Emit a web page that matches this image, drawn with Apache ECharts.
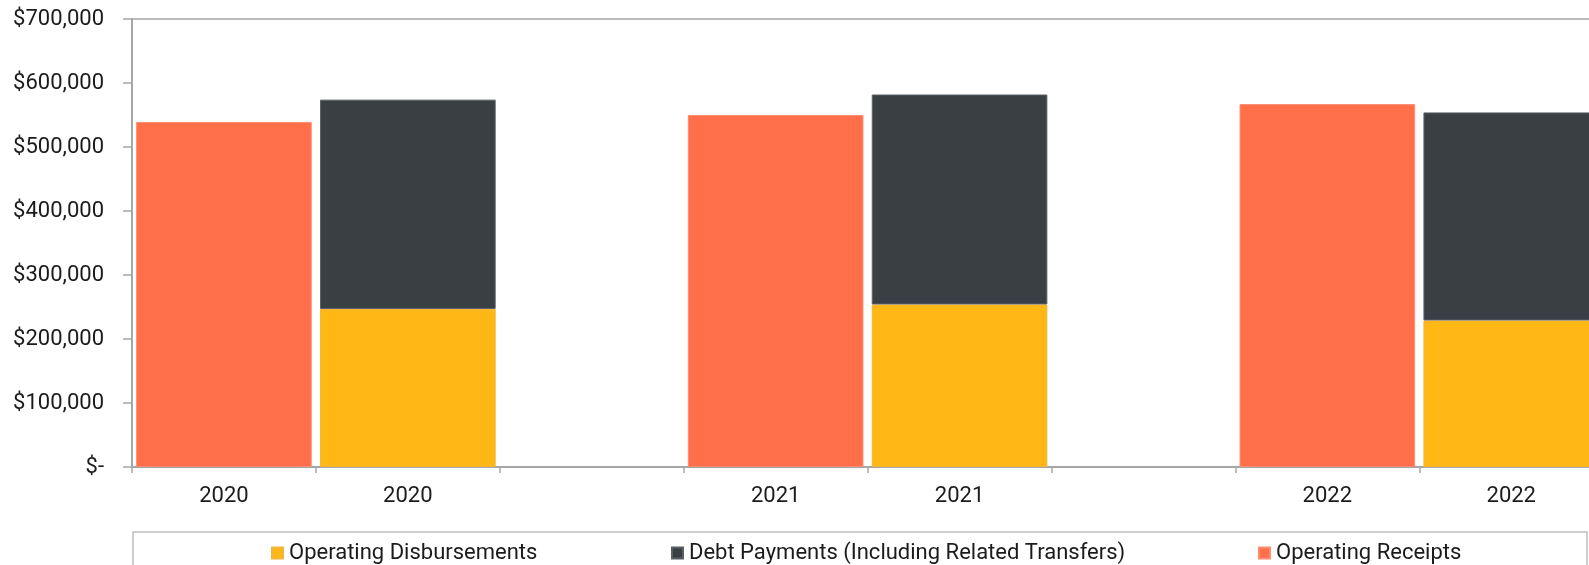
<!DOCTYPE html>
<html>
<head>
<meta charset="utf-8">
<script src="https://cdn.jsdelivr.net/npm/echarts@6/dist/echarts.min.js"></script>
<style>
  html, body { margin: 0; padding: 0; background: #ffffff; }
  #chart { width: 1589px; height: 565px; }
</style>
</head>
<body>
<div id="chart"></div>
<script>
// Fiscal years shown, each as a receipts column next to a spending column
const years = ['2020', '2021', '2022'];
const operatingReceipts = [539000, 550000, 567000];
const operatingDisbursements = [247000, 254000, 229000];
const debtPayments = [327000, 328000, 325000];
const seriesNames = ['Operating Disbursements', 'Debt Payments (Including Related Transfers)', 'Operating Receipts'];
const yTicks = { min: 0, max: 700000, interval: 100000 };

const FONT = 'Roboto, "Noto Sans", sans-serif';
const TEXT = '#1b1b1b';
const AXIS = '#a6a6a6';
const FS = 22;

// Category slots: receipts, spending, spacer between years
const categories = [];
const receiptsData = [];
const disbData = [];
const debtData = [];
years.forEach((y, i) => {
  if (i > 0) { categories.push(''); receiptsData.push('-'); disbData.push('-'); debtData.push('-'); }
  categories.push(y); receiptsData.push(operatingReceipts[i]); disbData.push('-'); debtData.push('-');
  categories.push(y); receiptsData.push('-'); disbData.push(operatingDisbursements[i]); debtData.push(debtPayments[i]);
});

const slot = 183.9;
const chart = echarts.init(document.getElementById('chart'), null, { renderer: 'canvas' });

function money(v) {
  if (v === 0) return '$-';
  return '$' + v.toLocaleString('en-US');
}

const legendPos = [271, 671, 1258];

chart.setOption({
  animation: false,
  textStyle: { fontFamily: FONT },
  grid: {
    left: 132, top: 19, width: slot * categories.length, bottom: 98,
    outerBoundsMode: 'none',
    show: true, borderColor: AXIS, borderWidth: 1.5, containLabel: false
  },
  xAxis: {
    type: 'category',
    data: categories,
    axisLine: { lineStyle: { color: AXIS, width: 2 } },
    axisTick: { show: true, length: 6, interval: 0, lineStyle: { color: AXIS, width: 1.5 } },
    axisLabel: { interval: 0, color: TEXT, fontSize: FS, fontFamily: FONT, margin: 18 },
    splitLine: { show: false }
  },
  yAxis: {
    type: 'value',
    min: yTicks.min, max: yTicks.max, interval: yTicks.interval,
    axisLine: { show: true, lineStyle: { color: AXIS, width: 2 } },
    axisTick: { show: true, length: 9, lineStyle: { color: AXIS, width: 1.5 } },
    axisLabel: { color: TEXT, fontSize: FS, fontFamily: FONT, margin: 28, formatter: money },
    splitLine: { show: false }
  },
  legend: legendPos.map((x, i) => ({
    data: [seriesNames[i]],
    left: x, top: 542, padding: 0,
    icon: 'rect', itemWidth: 11, itemHeight: 11, itemGap: 0,
    textStyle: { color: TEXT, fontSize: FS, fontFamily: FONT, padding: [0, 0, 0, 1] }
  })),
  graphic: [{
    type: 'rect',
    shape: { x: 133, y: 532, width: 1454, height: 60 },
    style: { fill: 'none', stroke: '#bfbfbf', lineWidth: 1.5 },
    silent: true, z: -1
  }],
  series: [
    {
      name: seriesNames[0], type: 'bar', stack: 'total', data: disbData,
      barCategoryGap: '4.5%',
      itemStyle: { color: '#ffb715', borderColor: '#f0b53a', borderWidth: 1 }
    },
    {
      name: seriesNames[1], type: 'bar', stack: 'total', data: debtData,
      barCategoryGap: '4.5%',
      itemStyle: { color: '#3a3f44', borderColor: '#5a5f65', borderWidth: 1 }
    },
    {
      name: seriesNames[2], type: 'bar', stack: 'total', data: receiptsData,
      barCategoryGap: '4.5%',
      itemStyle: { color: '#ff6f49', borderColor: '#ff8c6d', borderWidth: 1 }
    }
  ]
});
</script>
</body>
</html>
